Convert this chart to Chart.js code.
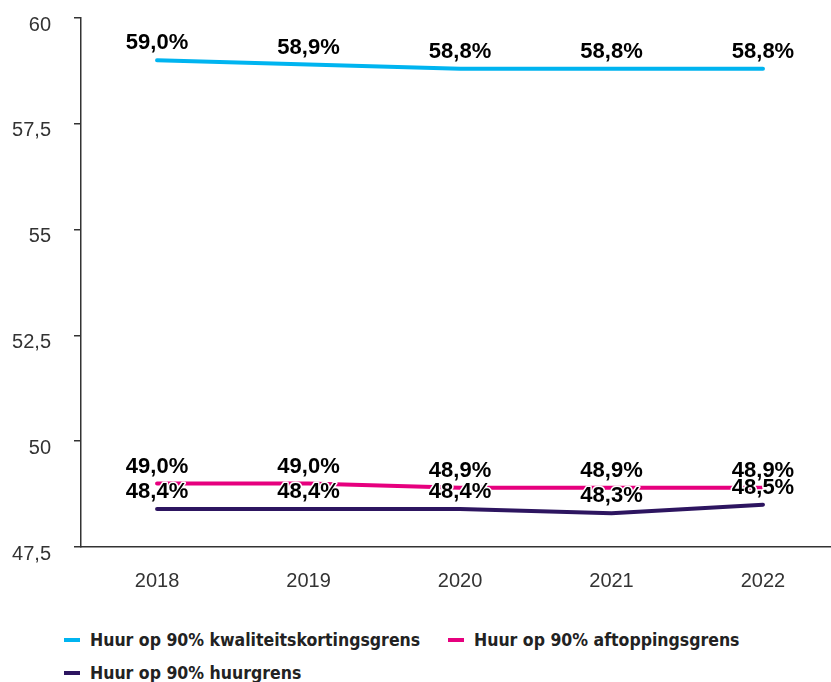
<!DOCTYPE html>
<html>
<head>
<meta charset="utf-8">
<script src="https://cdn.jsdelivr.net/npm/chart.js@4"></script>
<style>
  html, body { margin: 0; padding: 0; background: #fff; }
  #wrap { position: relative; width: 831px; height: 615px; }
  #legend { position: relative; width: 831px; height: 67px; font-family: 'Liberation Sans Narrow', 'DejaVu Sans', sans-serif;
            font-stretch: condensed; font-weight: bold; font-size: 17.5px; color: #222; }
  .item { position: absolute; display: flex; align-items: center; white-space: nowrap; height: 20px; }
  .item i { display: inline-block; width: 16px; height: 4px; margin-right: 10px; }
</style>
</head>
<body>
<div id="wrap"><canvas id="chart"></canvas></div>
<div id="legend"></div>
<script>
// --- Data ---
const years = [2018, 2019, 2020, 2021, 2022];
const kwaliteit = [59.0, 58.9, 58.8, 58.8, 58.8];
const aftopping = [49.0, 49.0, 48.9, 48.9, 48.9];
const huurgrens = [48.4, 48.4, 48.4, 48.3, 48.5];
const yTicks = [47.5, 50, 52.5, 55, 57.5, 60];
const seriesNames = ["Huur op 90% kwaliteitskortingsgrens", "Huur op 90% aftoppingsgrens", "Huur op 90% huurgrens"];
const seriesColors = ["#00B4F0", "#E6007E", "#2D1560"];

const comma = (v, d) => v.toFixed(d).replace(".", ",");
const toPoints = arr => arr.map((v, i) => ({ x: years[i], y: v }));

// Labels boven de punten, met witte rand
const pointLabels = {
  id: "pointLabels",
  afterDatasetsDraw(chart) {
    const ctx = chart.ctx;
    ctx.save();
    ctx.font = "bold 22px 'Liberation Sans', Arial, sans-serif";
    ctx.textAlign = "center";
    ctx.textBaseline = "alphabetic";
    ctx.lineJoin = "round";
    chart.data.datasets.forEach((ds, di) => {
      chart.getDatasetMeta(di).data.forEach((pt, i) => {
        const txt = comma(ds.data[i].y, 1) + "%";
        ctx.strokeStyle = "#fff";
        ctx.lineWidth = 3;
        ctx.strokeText(txt, pt.x, pt.y - 11);
        ctx.fillStyle = "#000";
        ctx.fillText(txt, pt.x, pt.y - 11);
      });
    });
    ctx.restore();
  }
};

const lineStyle = color => ({
  borderColor: color,
  backgroundColor: color,
  borderWidth: 4,
  borderCapStyle: "round",
  pointRadius: 0,
  tension: 0,
  fill: false
});

const series = [kwaliteit, aftopping, huurgrens];

new Chart(document.getElementById("chart"), {
  type: "line",
  data: {
    datasets: series.map((arr, i) => ({ label: seriesNames[i], data: toPoints(arr), ...lineStyle(seriesColors[i]) }))
  },
  options: {
    responsive: true,
    maintainAspectRatio: false,
    animation: false,
    layout: { padding: { top: 18, left: 0, right: 0, bottom: 0 } },
    scales: {
      x: {
        type: "linear",
        min: 2017.498,
        max: 2022.449,
        afterBuildTicks: s => { s.ticks = years.map(v => ({ value: v })); },
        afterFit: s => { s.height = 68; s.paddingLeft = 0; s.paddingRight = 0; },
        grid: { display: false },
        border: { display: true, color: "#333", width: 1.5 },
        ticks: {
          padding: 14,
          color: "#333",
          font: { family: "'Liberation Sans', Arial, sans-serif", size: 20 },
          callback: v => String(v)
        }
      },
      y: {
        min: 47.5,
        max: 60,
        afterBuildTicks: s => { s.ticks = yTicks.map(v => ({ value: v })); },
        afterFit: s => { s.width = 81; s.paddingTop = 0; s.paddingBottom = 0; },
        grid: { drawOnChartArea: false, drawTicks: true, tickLength: 7, color: "#333", lineWidth: 1.5 },
        border: { display: true, color: "#333", width: 1.5 },
        ticks: {
          padding: 23,
          labelOffset: 7,
          color: "#333",
          font: { family: "'Liberation Sans', Arial, sans-serif", size: 20 },
          callback: v => comma(v, v % 1 ? 1 : 0)
        }
      }
    },
    plugins: {
      tooltip: { enabled: false },
      legend: { display: false }
    }
  },
  plugins: [pointLabels]
});

// --- Legenda ---
const legendPos = [[64, 15], [448, 15], [64, 48]];
const legend = document.getElementById("legend");
seriesNames.forEach((name, i) => {
  const el = document.createElement("div");
  el.className = "item";
  el.style.left = legendPos[i][0] + "px";
  el.style.top = legendPos[i][1] + "px";
  el.innerHTML = `<i style="background:${seriesColors[i]}"></i><span>${name}</span>`;
  legend.appendChild(el);
});
</script>
</body>
</html>
